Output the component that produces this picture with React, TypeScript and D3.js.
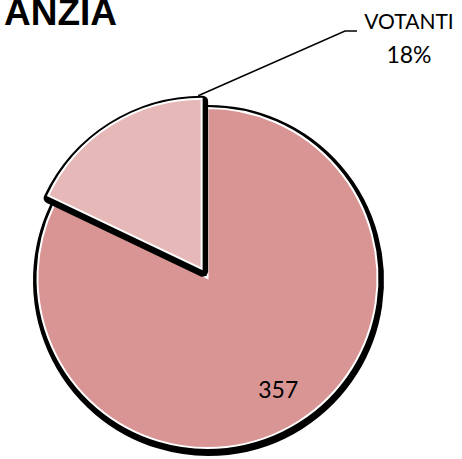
import { useRef, useEffect } from 'react';
import * as d3 from 'd3';

// chart data
const categories = ['NON VOTANTI', 'VOTANTI'];
const values = [357, 78];
const sliceColors = ['#D99594', '#E6B8B7'];
const title = 'ANZIA';

const App = () => {
  const svgRef = useRef<SVGSVGElement>(null);

  useEffect(() => {
    const width = 462;
    const height = 459;
    const cx = 207.5;
    const cy = 278;
    const radius = 170;
    const explode = 11;

    const svg = d3.select(svgRef.current);
    svg.selectAll('*').remove();

    // title (partly cut off on the left like the original)
    svg.append('text')
      .attr('x', 117)
      .attr('y', 25)
      .attr('text-anchor', 'end')
      .attr('font-family', 'Liberation Sans, Arial, sans-serif')
      .attr('font-weight', 'bold')
      .attr('font-size', 37)
      .attr('fill', '#000')
      .text(title);

    const pie = d3.pie<number>().sort(null).value(d => d);
    const arcs = pie(values);

    const arc = d3.arc<d3.PieArcDatum<number>>()
      .innerRadius(0)
      .outerRadius(radius);

    const labelArc = d3.arc<d3.PieArcDatum<number>>()
      .innerRadius(radius * 0.78)
      .outerRadius(radius * 0.78);

    const g = svg.append('g').attr('transform', `translate(${cx},${cy})`);

    const offset = (d: d3.PieArcDatum<number>) => {
      if (d.index === 0) return [0, 0];
      const mid = (d.startAngle + d.endAngle) / 2;
      return [Math.sin(mid) * explode, -Math.cos(mid) * explode];
    };

    arcs.forEach(d => {
      const [ox, oy] = offset(d);
      const sg = g.append('g').attr('transform', `translate(${ox},${oy})`);
      // black shadow
      sg.append('path')
        .attr('d', arc(d))
        .attr('transform', 'translate(1,2.5)')
        .attr('fill', '#000')
        .attr('stroke', '#000')
        .attr('stroke-width', 11)
        .attr('stroke-linejoin', 'round');
      sg.append('path')
        .attr('d', arc(d))
        .attr('fill', sliceColors[d.index])
        .attr('stroke', '#fff')
        .attr('stroke-width', 2);
    });

    // value label inside the big slice
    const big = arcs[0];
    const [lx, ly] = labelArc.centroid(big);
    g.append('text')
      .attr('x', lx)
      .attr('y', ly)
      .attr('dy', '0.35em')
      .attr('text-anchor', 'middle')
      .attr('font-family', 'Lato, sans-serif')
      .attr('font-size', 23)
      .attr('fill', '#000')
      .text(String(values[0]));

    // leader line + label for VOTANTI
    const small = arcs[1];
    const [sx, sy] = offset(small);
    const a = small.endAngle - 0.02;
    const startX = cx + sx + Math.sin(a) * (radius + 3);
    const startY = cy + sy - Math.cos(a) * (radius + 3);
    const total = d3.sum(values);
    svg.append('polyline')
      .attr('points', `${startX},${startY} 345,31 357,31`)
      .attr('fill', 'none')
      .attr('stroke', '#000')
      .attr('stroke-width', 1.5);

    const lbl = svg.append('text')
      .attr('text-anchor', 'middle')
      .attr('font-family', 'Lato, sans-serif')
      .attr('font-size', 21)
      .attr('fill', '#000');
    lbl.append('tspan').attr('x', 409).attr('y', 29).text(categories[1]);
    lbl.append('tspan').attr('x', 409).attr('y', 63).attr('font-size', 23)
      .text(`${Math.round((values[1] / total) * 100)}%`);

    svg.attr('width', width).attr('height', height);
  }, []);

  return (
    <div style={{ position: 'absolute', left: 0, top: 0 }}>
      <svg ref={svgRef} width={462} height={459} style={{ display: 'block', background: '#fff' }} />
    </div>
  );
};

export default App;
